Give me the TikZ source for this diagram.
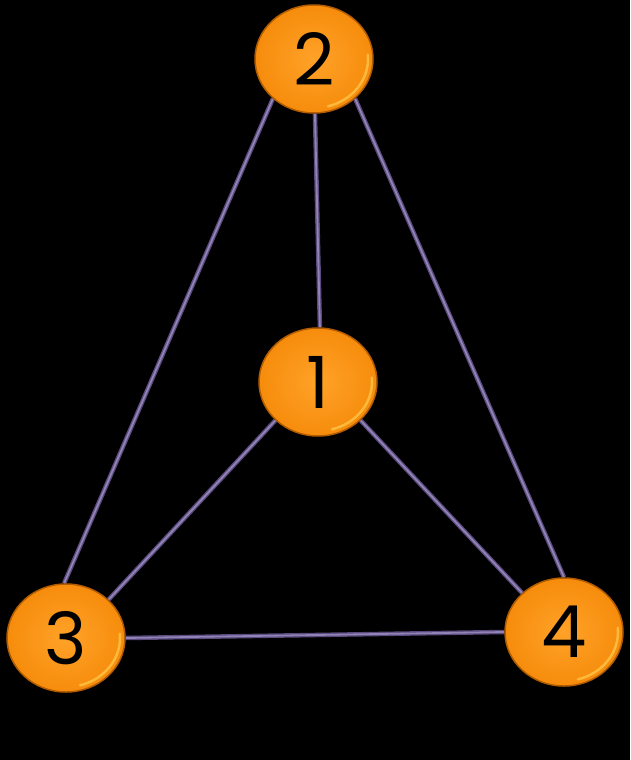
\documentclass[tikz,border=0pt]{standalone}
\usepackage{fontspec}
\setmainfont{Poppins}
\usetikzlibrary{shapes.geometric,backgrounds}
\definecolor{edgeout}{HTML}{5A4A7E}
\definecolor{edgein}{HTML}{9283B6}
\definecolor{ballin}{HTML}{FFA228}
\definecolor{ballout}{HTML}{F68C0C}
\definecolor{ballrim}{HTML}{B25C00}
\definecolor{ballhi}{HTML}{FFC84A}
\tikzset{
  ball/.style={ellipse, minimum width=118pt, minimum height=108pt, inner sep=0pt,
    inner color=ballin, outer color=ballout, draw=ballrim, line width=1.5pt,
    font=\fontsize{72}{72}\selectfont, text=black},
  link/.style={draw=edgeout, line width=4.5pt,
    postaction={draw=edgein, line width=1.8pt}},
  glint/.style={draw=ballhi, line width=2.5pt, line cap=round, opacity=0.75}
}
\begin{document}
\begin{tikzpicture}[x=1pt,y=-1pt]
\useasboundingbox (0,0) rectangle (630,760);
\node[ball] (n2) at (314,59) {2};
\node[ball] (n1) at (318,382) {1};
\node[ball] (n3) at (66,638) {3};
\node[ball] (n4) at (564,632) {4};
\foreach \n in {n1,n2,n3,n4}{
  \draw[glint] (\n.center) ++(-75:54pt and 49pt) arc[x radius=54pt, y radius=49pt, start angle=-75, end angle=5];
}
\begin{scope}[on background layer]
\fill[black] (0,0) rectangle (630,760);
\draw[link] (n2.224) -- (n3.92);
\draw[link] (n2.271) -- (n1.88);
\draw[link] (n2.316) -- (n4.90);
\draw[link] (n1.222) -- (n3.42);
\draw[link] (n1.318) -- (n4.137);
\draw[link] (n3.0) -- (n4.180);
\end{scope}
\end{tikzpicture}
\end{document}
